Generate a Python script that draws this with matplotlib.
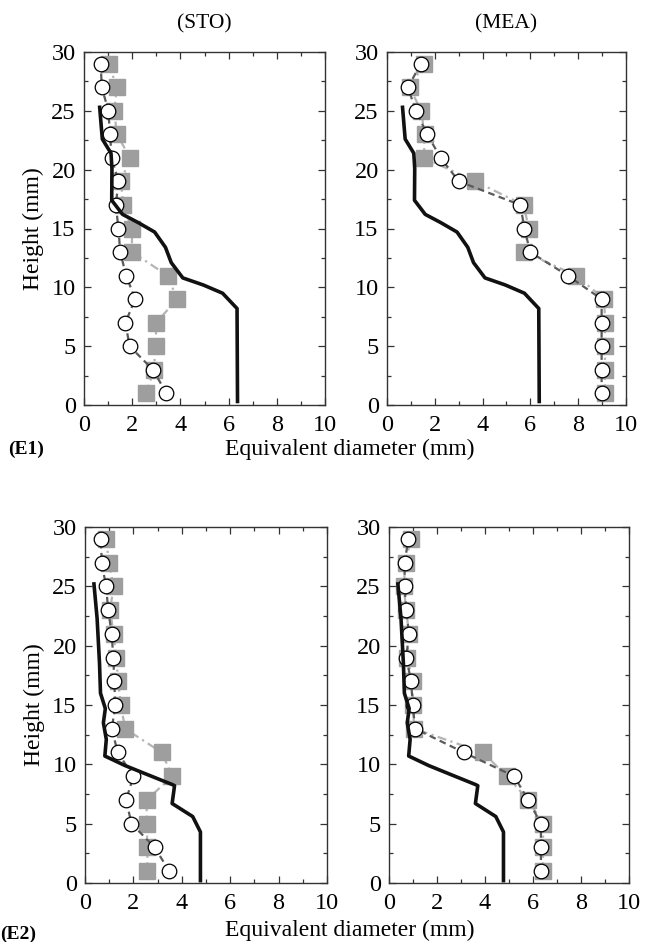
import matplotlib
matplotlib.use("Agg")
import matplotlib.pyplot as plt
from matplotlib.ticker import MultipleLocator

plt.rcParams['font.family'] = ['Liberation Serif', 'DejaVu Serif']

heights = [1, 3, 5, 7, 9, 11, 13, 15, 17, 19, 21, 23, 25, 27, 29]

# E1 (top row)
e1_sto_circ = [3.42, 2.86, 1.89, 1.72, 2.12, 1.75, 1.50, 1.43, 1.32, 1.43, 1.15, 1.08, 1.01, 0.74, 0.69]
e1_sto_sq = [2.58, 2.90, 2.97, 3.00, 3.86, 3.47, 1.99, 1.99, 1.63, 1.53, 1.92, 1.36, 1.26, 1.36, 1.03]
e1_mea_circ = [8.98, 8.98, 8.98, 8.98, 8.98, 7.56, 5.99, 5.75, 5.58, 3.01, 2.24, 1.69, 1.20, 0.88, 1.41]
e1_mea_sq = [9.12, 9.12, 9.12, 9.12, 9.09, 7.91, 5.75, 5.93, 5.72, 3.70, 1.55, 1.57, 1.43, 0.95, 1.55]
e1_ref_x = [6.37, 6.35, 5.75, 4.95, 4.10, 3.62, 3.38, 2.93, 2.25, 1.60, 1.15, 1.16, 1.12, 0.76, 0.65]
e1_ref_y = [0.3, 8.2, 9.5, 10.2, 10.8, 12.1, 13.4, 14.7, 15.5, 16.2, 17.4, 20.1, 21.4, 22.6, 25.3]

# E2 (bottom row)
e2_sto_circ = [3.48, 2.88, 1.92, 1.70, 2.00, 1.35, 1.11, 1.25, 1.21, 1.17, 1.10, 0.96, 0.87, 0.69, 0.66]
e2_sto_sq = [2.58, 2.58, 2.55, 2.55, 3.61, 3.17, 1.66, 1.48, 1.37, 1.29, 1.18, 1.04, 1.18, 0.99, 0.87]
e2_mea_circ = [6.33, 6.33, 6.33, 5.80, 5.21, 3.12, 1.09, 0.99, 0.92, 0.72, 0.83, 0.72, 0.65, 0.65, 0.81]
e2_mea_sq = [6.42, 6.42, 6.42, 5.80, 4.91, 3.91, 1.06, 0.99, 0.99, 0.76, 0.83, 0.72, 0.61, 0.69, 0.92]
e2_ref_x = [4.77, 4.77, 4.45, 3.60, 3.70, 3.60, 2.50, 1.65, 0.82, 0.88, 0.76, 0.84, 0.64, 0.60, 0.50, 0.37]
e2_ref_y = [0.2, 4.3, 5.6, 6.7, 8.2, 8.3, 9.2, 9.9, 10.7, 12.1, 13.5, 14.7, 16.0, 18.5, 22.3, 25.2]

W, H = 645, 942
fig = plt.figure(figsize=(W / 100, H / 100), dpi=100)

def px_axes(x0, x1, y0, y1):
    return fig.add_axes([x0 / W, 1 - y1 / H, (x1 - x0) / W, (y1 - y0) / H])

def panel(ax, circ, sq, rx, ry, ylabel=True):
    ax.plot(sq, heights, color='#b4b4b4', lw=1.6, ls=(0, (4, 2, 1, 2)),
            marker='s', ms=11, mfc='#9e9e9e', mec='#9e9e9e', zorder=2)
    ax.plot(circ, heights, color='#5a5a5a', lw=1.6, ls=(0, (3, 2)),
            marker='o', ms=10.5, mfc='white', mec='black', mew=0.9, zorder=3)
    ax.plot(rx, ry, color='#111111', lw=2.6, zorder=4, solid_joinstyle='round')
    ax.set_xlim(0, 10)
    ax.set_ylim(0, 30)
    ax.xaxis.set_major_locator(MultipleLocator(2))
    ax.xaxis.set_minor_locator(MultipleLocator(1))
    ax.yaxis.set_major_locator(MultipleLocator(5))
    ax.yaxis.set_minor_locator(MultipleLocator(2.5))
    ax.tick_params(which='both', direction='in', top=True, right=True,
                   labelsize=17.5, width=0.9, color='#333333')
    ax.tick_params(which='major', length=5, pad=6)
    ax.tick_params(which='minor', length=3)
    ax.tick_params(axis='x', pad=7)
    for s in ax.spines.values():
        s.set_linewidth(1.0)
        s.set_color('#333333')
    if ylabel:
        ax.set_ylabel('Height (mm)', fontsize=17, labelpad=5)

ax1 = px_axes(84, 325, 52, 405)
panel(ax1, e1_sto_circ, e1_sto_sq, e1_ref_x, e1_ref_y)
ax1.set_title('(STO)', fontsize=15.5, pad=17)

ax2 = px_axes(387, 626, 52, 405)
panel(ax2, e1_mea_circ, e1_mea_sq, e1_ref_x, e1_ref_y, ylabel=False)
ax2.set_title('(MEA)', fontsize=15.5, pad=17)

ax3 = px_axes(85, 327, 527, 883)
panel(ax3, e2_sto_circ, e2_sto_sq, e2_ref_x, e2_ref_y)

ax4 = px_axes(389, 629, 527, 883)
panel(ax4, e2_mea_circ, e2_mea_sq, e2_ref_x, e2_ref_y, ylabel=False)

fig.text(350 / W, 1 - 449 / H, 'Equivalent diameter (mm)', fontsize=17, ha='center', va='center')
fig.text(350 / W, 1 - 930 / H, 'Equivalent diameter (mm)', fontsize=17, ha='center', va='center')
fig.text(8 / W, 1 - 449 / H, '(E1)', fontsize=14, fontweight='bold', ha='left', va='center')
fig.text(0 / W, 1 - 934 / H, '(E2)', fontsize=14, fontweight='bold', ha='left', va='center')

fig.savefig('out.png', dpi=100)
